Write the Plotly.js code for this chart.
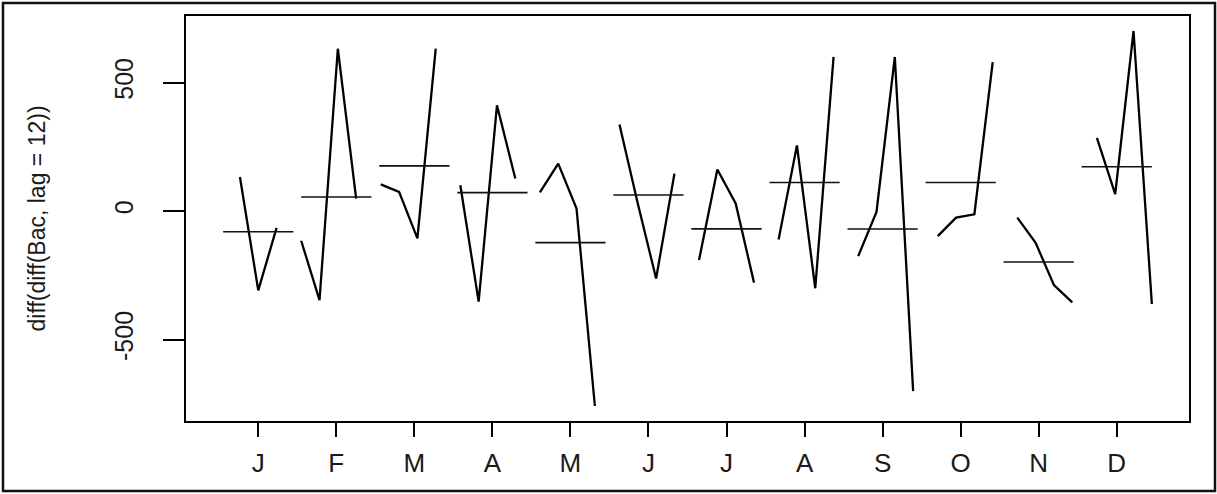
<!DOCTYPE html>
<html>
<head>
<meta charset="utf-8">
<script src="https://cdn.plot.ly/plotly-3.0.1.min.js"></script>
<style>
  html, body { margin: 0; padding: 0; background: #fff; }
  #chart { width: 1217px; height: 494px; }
</style>
</head>
<body>
<div id="chart"></div>
<script>
// Month labels (tick labels)
const monthLabels = ['J', 'F', 'M', 'A', 'M', 'J', 'J', 'A', 'S', 'O', 'N', 'D'];

// diff(diff(Bac, lag = 12)) : series starts in February of year 1
const startMonth = 2;
const year1 = [-115, 104, 101, 73, 337, -190, -110, -175, -97, -25, 285];          // Feb..Dec
const year2 = [133, -346, 75, -352, 185, 30, 162, 256, -3, -25, -123, 66];         // Jan..Dec
const year3 = [-308, 632, -106, 412, 10, -262, 30, -300, 600, -12, -288, 701];     // Jan..Dec
const year4 = [-65, 49, 632, 127, -758, 146, -278, 600, -700, 580, -355, -361];    // Jan..Dec

const yTickVals = [-500, 0, 500];
const yTitle = 'diff(diff(Bac, lag = 12))';

// ---- build series like R's monthplot ----
const series = [].concat(year1, year2, year3, year4);
const N = series.length;
const times = series.map((_, i) => i + 1);
const phase = times.map(t => ((startMonth - 1 + t - 1) % 12) + 1);

const traces = [];
const lineColor = '#000000';
for (let m = 1; m <= 12; m++) {
  const xs = [], ys = [];
  for (let i = 0; i < N; i++) {
    if (phase[i] === m) {
      xs.push(m - 0.45 + 0.9 * (times[i] - 1) / (N - 1));
      ys.push(series[i]);
    }
  }
  traces.push({
    x: xs, y: ys, type: 'scatter', mode: 'lines',
    line: { color: lineColor, width: 2.3 }, hoverinfo: 'skip', showlegend: false
  });
  const mean = ys.reduce((a, b) => a + b, 0) / ys.length;
  traces.push({
    x: [m - 0.45, m + 0.45], y: [mean, mean], type: 'scatter', mode: 'lines',
    line: { color: '#111111', width: 1.6 }, hoverinfo: 'skip', showlegend: false
  });
}

// R-style 4% axis extension
const ymin = Math.min(...series), ymax = Math.max(...series);
const yr = ymax - ymin;
const yRange = [ymin - 0.04 * yr, ymax + 0.04 * yr];
const xlo = 0.55, xhi = 12.45, xr = xhi - xlo;
const xRange = [xlo - 0.04 * xr, xhi + 0.04 * xr];

const W = 1217, H = 494;
const margin = { l: 186, r: 28, t: 16, b: 73 };
const pw = W - margin.l - margin.r, ph = H - margin.t - margin.b;
const px2x = p => (p - margin.l) / pw;
const px2y = p => (H - margin.b - p) / ph;

const font = { family: '"Liberation Sans", Arial, sans-serif', size: 23, color: '#1a1a1a' };

const layout = {
  width: W, height: H,
  margin: margin,
  paper_bgcolor: '#ffffff', plot_bgcolor: '#ffffff',
  font: font,
  showlegend: false,
  xaxis: {
    range: xRange, tickvals: monthLabels.map((_, i) => i + 1), ticktext: monthLabels,
    ticks: 'outside', ticklen: 14, tickwidth: 2, tickcolor: '#000',
    showgrid: false, zeroline: false,
    showline: true, mirror: true, linecolor: '#000', linewidth: 2,
    tickfont: { family: font.family, size: 26, color: '#1a1a1a' },
    ticklabelstandoff: 4,
    fixedrange: true
  },
  yaxis: {
    range: yRange, tickvals: yTickVals, ticktext: yTickVals.map(String),
    ticks: 'outside', ticklen: 21, tickwidth: 2, tickcolor: '#000',
    tickangle: -90,
    showgrid: false, zeroline: false,
    showline: true, mirror: true, linecolor: '#000', linewidth: 2,
    tickfont: { family: font.family, size: 25, color: '#1a1a1a' },
    ticklabelstandoff: 20,
    fixedrange: true
  },
  annotations: [{
    text: yTitle, textangle: -90,
    xref: 'paper', yref: 'paper',
    x: px2x(36), y: 0.5, xanchor: 'center', yanchor: 'middle',
    showarrow: false,
    font: { family: font.family, size: 23, color: '#1a1a1a' }
  }],
  shapes: [{
    type: 'rect', xref: 'paper', yref: 'paper',
    x0: px2x(3), x1: px2x(1215), y0: px2y(491), y1: px2y(3),
    line: { color: '#111', width: 2.5 }, fillcolor: 'rgba(0,0,0,0)', layer: 'above'
  }]
};

Plotly.newPlot('chart', traces, layout, { staticPlot: true, displayModeBar: false });
</script>
</body>
</html>
